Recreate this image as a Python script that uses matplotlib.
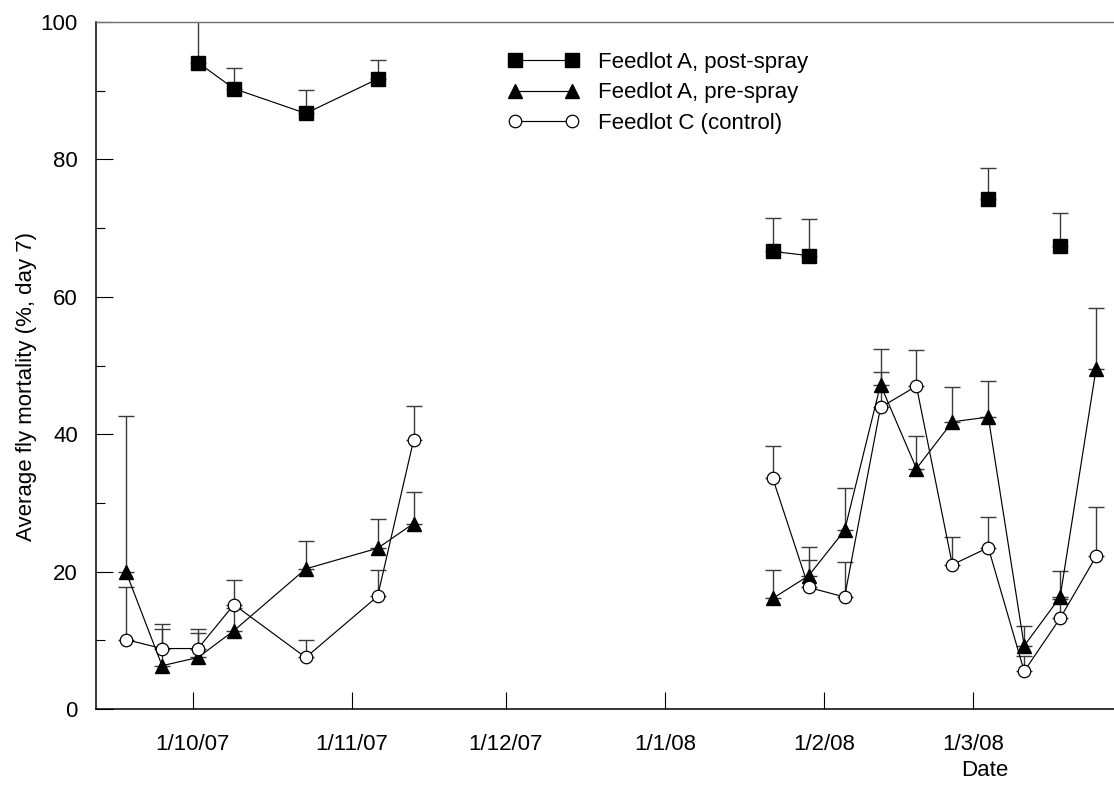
import datetime as dt

import numpy as np
from matplotlib import pyplot as plt
from matplotlib.ticker import FuncFormatter, MultipleLocator
import matplotlib.dates as mdates

nan = np.nan

# autumn 2007 sampling dates
dates_2007 = ["2007-09-18", "2007-09-25", "2007-10-02", "2007-10-09",
              "2007-10-23", "2007-11-06", "2007-11-13"]
post_2007 = [nan, nan, 94.1, 90.3, 86.7, 91.7, nan]
post_2007_err = [nan, nan, 7.0, 3.0, 3.4, 2.7, nan]
pre_2007 = [19.9, 6.3, 7.5, 11.4, 20.4, 23.4, 27.0]
pre_2007_err = [22.7, 5.3, 4.2, 3.3, 4.1, 4.3, 4.6]
ctrl_2007 = [10.1, 8.8, 8.8, 15.2, 7.5, 16.4, 39.1]
ctrl_2007_err = [7.6, 3.6, 2.3, 3.6, 2.6, 3.8, 5.0]

# summer/autumn 2008 sampling dates
dates_2008 = ["2008-01-22", "2008-01-29", "2008-02-05", "2008-02-12", "2008-02-19",
              "2008-02-26", "2008-03-04", "2008-03-11", "2008-03-18", "2008-03-25"]
post_2008 = [66.6, 66.0, nan, nan, nan, nan, 74.3, nan, 67.4, nan]
post_2008_err = [4.8, 5.3, nan, nan, nan, nan, 4.5, nan, 4.8, nan]
pre_2008 = [16.1, 19.4, 26.0, 47.2, 35.0, 41.8, 42.5, 9.2, 16.3, 49.5]
pre_2008_err = [4.2, 4.2, 6.2, 5.2, 4.8, 5.1, 5.2, 2.9, 3.8, 8.9]
ctrl_2008 = [33.6, 17.7, 16.3, 43.9, 47.0, 21.0, 23.5, 5.5, 13.2, 22.2]
ctrl_2008_err = [4.7, 4.0, 5.1, 5.2, 5.2, 4.1, 4.4, 2.2, 2.8, 7.2]

labels = ["Feedlot A, post-spray", "Feedlot A, pre-spray", "Feedlot C (control)"]

plt.rcParams["font.family"] = ["Liberation Sans", "DejaVu Sans"]
plt.rcParams["font.size"] = 16

fig = plt.figure(figsize=(11.14, 7.87), dpi=100)
ax = fig.add_axes([96 / 1114, 1 - 709 / 787, 1 - 96 / 1114, (709 - 22) / 787])

styles = [
    dict(marker="s", ms=9.5, mfc="black", mec="black"),
    dict(marker="^", ms=10, mfc="black", mec="black"),
    dict(marker="o", ms=9, mfc="white", mec="black", mew=0.9),
]

handles = []
for dates, series in [(dates_2007, [(post_2007, post_2007_err), (pre_2007, pre_2007_err), (ctrl_2007, ctrl_2007_err)]),
                      (dates_2008, [(post_2008, post_2008_err), (pre_2008, pre_2008_err), (ctrl_2008, ctrl_2008_err)])]:
    x = [dt.datetime.strptime(d, "%Y-%m-%d") for d in dates]
    handles = []
    for (vals, err), st in zip(series, styles):
        vals = np.array(vals)
        err = np.array(err)
        ax.errorbar(x, vals, yerr=[np.zeros_like(err), err], fmt="none",
                    ecolor="#3a3a3a", elinewidth=1.0, capsize=6, capthick=1.0, zorder=2)
        line, = ax.plot(x, vals, color="black", lw=0.85, zorder=3, **st)
        handles.append(line)

ax.set_xlim(dt.datetime(2007, 9, 12, 3), dt.datetime(2008, 3, 28, 12))
ax.set_ylim(0, 100)

ax.xaxis.set_major_locator(mdates.MonthLocator(bymonth=[10, 11, 12, 1, 2, 3]))
ax.xaxis.set_major_formatter(FuncFormatter(
    lambda v, pos: "{0.day}/{0.month}/{1}".format(mdates.num2date(v), mdates.num2date(v).strftime("%y"))))
ax.yaxis.set_major_locator(MultipleLocator(20))
ax.yaxis.set_minor_locator(MultipleLocator(10))

ax.tick_params(axis="x", direction="in", length=12, width=0.8, pad=18, labelsize=16)
ax.tick_params(axis="y", which="major", direction="in", length=12, width=0.8, pad=13, labelsize=16)
ax.tick_params(axis="y", which="minor", direction="in", length=6.5, width=0.8)

for side in ["left", "bottom"]:
    ax.spines[side].set_linewidth(1.1)
ax.spines["top"].set_color("#707070")
ax.spines["top"].set_linewidth(1.0)
ax.spines["right"].set_visible(False)

ax.set_ylabel("Average fly mortality (%, day 7)", fontsize=16)
ax.yaxis.set_label_coords(-0.058, 0.47)
fig.text(985 / 1114, 1 - 776 / 787, "Date", ha="center", va="baseline", fontsize=16)

fig.legend(handles, labels, loc="upper left", bbox_to_anchor=(508 / 1114, 1 - 52 / 787),
           frameon=False, numpoints=2, handlelength=3.2, handletextpad=0.85,
           labelspacing=0.42, borderpad=0, borderaxespad=0, fontsize=16)

fig.savefig("out.png", dpi=100)
